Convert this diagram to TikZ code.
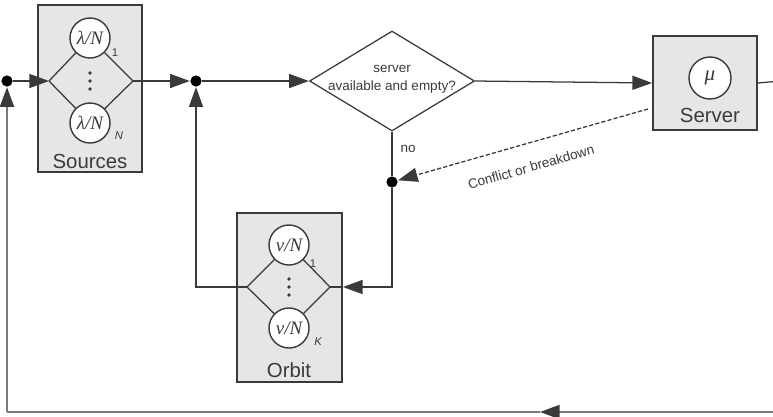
\documentclass[tikz,border=0pt]{standalone}
\usepackage{fontspec}
\setmainfont{Liberation Sans}
\newfontfamily\greekfont{Liberation Serif}
\usetikzlibrary{positioning, arrows.meta, shapes.geometric}
\definecolor{linegray}{HTML}{3A3A3A}
\definecolor{boxgray}{HTML}{E6E6E6}
\definecolor{loopgray}{HTML}{7A7A7A}

\begin{document}
\begin{tikzpicture}[
    x=0.025cm, y=-0.025cm,
    color=linegray, line width=0.9pt,
    box/.style={rectangle, draw, line width=1.3pt, fill=boxgray, inner sep=0pt},
    rate/.style={circle, draw, line width=1pt, fill=white, minimum size=1cm, inner sep=0pt, font=\fontsize{13.5}{13.5}\selectfont\greekfont\itshape},
    junction/.style={circle, fill=black, minimum size=0.28cm, inner sep=0pt},
    decision/.style={diamond, draw, minimum width=4.125cm, minimum height=2.5cm, inner sep=0pt},
    boxname/.style={font=\fontsize{14.5}{14.5}\selectfont},
    smalltext/.style={font=\fontsize{9.6}{12.8}\selectfont},
    idx/.style={font=\fontsize{8}{8}\selectfont},
    arrow/.style={-{Triangle[length=14pt, width=10pt, color=linegray]}},
    returnline/.style={draw=loopgray, line width=1.3pt}
]
    \useasboundingbox (0,0) rectangle (773,416);

    % Boxes
    \node[box, minimum width=2.6cm, minimum height=4.175cm] (Sources) at (90,88.5) {};
    \node[box, minimum width=2.6cm, minimum height=2.35cm] (Server) at (705,83) {};
    \node[box, minimum width=2.625cm, minimum height=4.225cm] (Orbit) at (289.5,297.5) {};

    % Rates
    \node[rate] (lam1) at (90,38) {λ/N};
    \node[rate] (lamN) at (90,123) {λ/N};
    \node[rate, minimum size=1.05cm, font=\fontsize{15}{15}\selectfont\greekfont\itshape] (mu) at (710,78) {μ};
    \node[rate] (nu1) at (289,245) {ν/N};
    \node[rate] (nuK) at (289,328) {ν/N};

    \node[idx] (i1) at (115,53) {1};
    \node[idx] (iN) at (119,136) {\itshape N};
    \node[idx] (j1) at (313,264) {1};
    \node[idx] (jK) at (318,342) {\itshape K};

    \foreach \y in {-8,0,8} {
        \fill (90,81+\y) circle (1.4pt);
        \fill (289,287+\y) circle (1.4pt);
    }

    \coordinate (sl) at (49,81);
    \coordinate (sr) at (133,81);
    \coordinate (ol) at (247,287);
    \coordinate (or) at (330,287);

    \node[boxname] (srclabel) at (90,161) {Sources};
    \node[boxname] (srvlabel) at (710,115) {Server};
    \node[boxname] (orblabel) at (289,370) {Orbit};

    % Decision and junctions
    \node[decision] (dec) at (392,81) {};
    \node[smalltext, align=center] (question) at (392,79) {server\\available and empty?};
    \node[junction] (d0) at (7,81) {};
    \node[junction] (d1) at (196,81) {};
    \node[junction] (d2) at (392,182) {};
    \coordinate (cb) at (648,109);
    \coordinate (rt) at (780,81);
    \coordinate (rb) at (780,412);
    \coordinate (bm) at (540,412);
    \coordinate (lb) at (7,412);

    \node[smalltext] (no) at (408,149) {no};
    \node[smalltext, rotate=16] (conflict) at (531,167) {Conflict or breakdown};

    % Arrows
    \draw (sl) -- (lam1) -- (sr) -- (lamN) -- (sl);
    \draw (ol) -- (nu1) -- (or) -- (nuK) -- (ol);
    \draw[arrow] (d0) -- (sl);
    \draw[arrow] (sr) -- (d1);
    \draw[arrow] (d1) -- (dec.west);
    \draw[arrow] (dec.east) -- (Server.west);
    \draw (dec.south) -- (d2);
    \draw[arrow] (d2) |- (Orbit.east |- or);
    \draw (or) -- (Orbit.east |- or);
    \draw[arrow, dash pattern=on 3pt off 1.5pt] (cb) -- (d2);
    \draw[arrow] (ol) -| (d1);
    \draw (Server.east) -- (rt);
    \draw[returnline] (rt) -- (rb);
    \draw[returnline, arrow] (rb) -- (bm);
    \draw[returnline] (bm) -- (lb);
    \draw[returnline, arrow] (lb) -- (d0);
\end{tikzpicture}
\end{document}
